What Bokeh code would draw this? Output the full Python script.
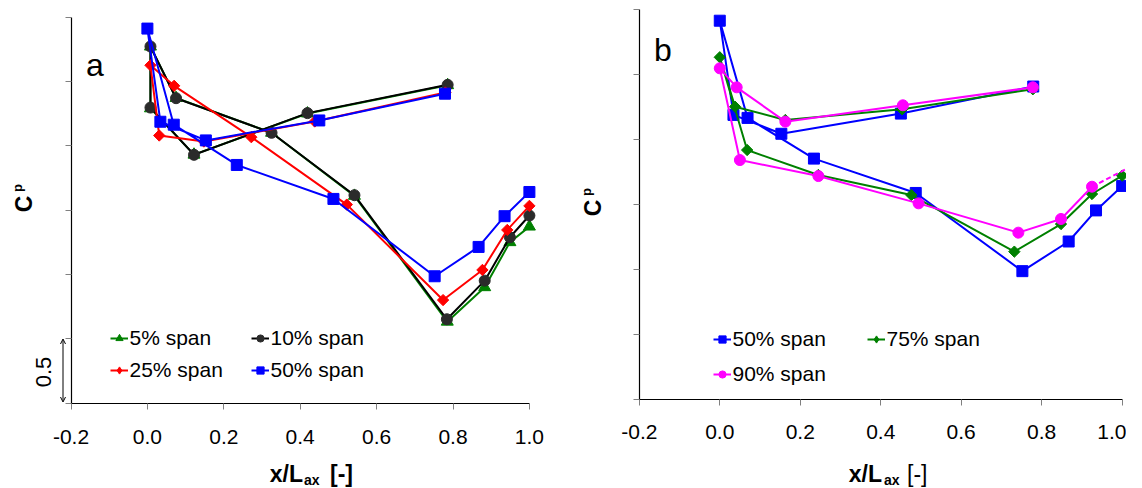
import math
from bokeh.plotting import figure
from bokeh.layouts import row
from bokeh.models import (Label, Legend, LegendItem, Arrow, OpenHead, FixedTicker,
                          PrintfTickFormatter, Range1d)
from bokeh.embed import file_html
from bokeh.resources import INLINE

# ---------------- data ----------------
X_TICKS = [-0.2, 0.0, 0.2, 0.4, 0.6, 0.8, 1.0]
Y_TICKS = [0.0, 0.5, 1.0, 1.5, 2.0, 2.5, 3.0]

# panel a
span5_x = [0.786, 0.419, 0.122, 0.008, 0.008, 0.075, 0.325, 0.542, 0.785, 0.883, 0.949, 1.0]
span5_y = [2.470, 2.250, 1.930, 2.290, 2.770, 2.370, 2.100, 1.610, 0.632, 0.900, 1.250, 1.371]

span10_x = [0.786, 0.419, 0.122, 0.008, 0.008, 0.075, 0.325, 0.542, 0.784, 0.883, 0.949, 1.0]
span10_y = [2.473, 2.253, 1.929, 2.296, 2.771, 2.369, 2.100, 1.615, 0.651, 0.951, 1.288, 1.457]

span25_x = [0.780, 0.438, 0.148, 0.031, 0.008, 0.070, 0.272, 0.522, 0.774, 0.877, 0.942, 1.0]
span25_y = [2.413, 2.188, 2.032, 2.079, 2.625, 2.465, 2.066, 1.542, 0.800, 1.034, 1.345, 1.532]

span50_x = [0.779, 0.450, 0.153, 0.034, 0.0, 0.069, 0.234, 0.487, 0.752, 0.867, 0.935, 1.0]
span50_y = [2.404, 2.196, 2.041, 2.186, 2.910, 2.163, 1.850, 1.586, 0.985, 1.213, 1.452, 1.640]

# panel b
span75_x = [0.778, 0.453, 0.163, 0.038, 0.0, 0.068, 0.245, 0.476, 0.732, 0.848, 0.925, 1.0]
span75_y = [2.383, 2.229, 2.147, 2.249, 2.629, 1.916, 1.724, 1.570, 1.135, 1.347, 1.578, 1.719]

span90_x = [0.778, 0.455, 0.163, 0.042, 0.0, 0.050, 0.245, 0.494, 0.742, 0.848, 0.925]
span90_y = [2.398, 2.260, 2.134, 2.398, 2.544, 1.839, 1.716, 1.506, 1.281, 1.386, 1.634]
span90_ext_x = [0.925, 1.01]
span90_ext_y = [1.634, 1.770]

# ---------------- styling ----------------
FONT = "Liberation Sans"
GREEN = "#008000"
BLACK = "#000000"
DARK = "#2b2b2b"
RED = "#ff0000"
BLUE = "#0000ff"
MAGENTA = "#ff00ff"
PAGE = 0.5
FIG_H = 487


def make_fig(F, standoff):
    """F: picture geometry of the panel (figure box, axis origin, pixels per unit)."""
    x0 = -0.2 - (F["ox"] - F["fx"]) / F["ppx"]
    x1 = -0.2 + (F["fx"] + F["w"] - F["ox"]) / F["ppx"]
    y0 = -(F["fy"] + F["h"] - F["oy"]) / F["ppy"]
    y1 = (F["oy"] - F["fy"]) / F["ppy"]
    p = figure(width=F["w"], height=F["h"], x_range=Range1d(x0, x1), y_range=Range1d(y0, y1),
               output_backend="svg", toolbar_location=None, min_border=0)
    p.outline_line_color = None
    p.xgrid.visible = False
    p.ygrid.visible = False
    p.background_fill_color = "white"
    p.border_fill_color = "white"
    for ax in (p.xaxis[0], p.yaxis[0]):
        ax.axis_line_color = "black"
        ax.axis_line_width = 1.2
        ax.major_tick_in = 0
        ax.major_tick_out = 6
        ax.major_tick_line_color = "#808080"
        ax.minor_tick_in = 0
        ax.minor_tick_out = 6
        ax.minor_tick_line_color = "#808080"
    p.xaxis.fixed_location = 0.0
    p.xaxis.ticker = FixedTicker(ticks=X_TICKS)
    p.xaxis.minor_tick_line_color = None
    p.xaxis.formatter = PrintfTickFormatter(format="%.1f")
    p.xaxis.bounds = (-0.2, 1.0)
    p.xaxis.major_label_text_font = FONT
    p.xaxis.major_label_text_font_size = "21px"
    p.xaxis.major_label_text_color = "black"
    p.xaxis.major_label_standoff = standoff
    p.yaxis.fixed_location = -0.2
    p.yaxis.ticker = FixedTicker(ticks=[], minor_ticks=Y_TICKS)
    p.yaxis.bounds = (0.0, 3.0)
    return p


def series(p, xs, ys, color, marker, size, fill=None, angle=0.0, legend_marker=None):
    ln = p.line(xs, ys, line_color=color, line_width=2)
    sc = p.scatter(xs, ys, marker=marker, size=size, angle=angle,
                   fill_color=fill or color, line_color=fill or color)
    if legend_marker is not None:
        # hidden twin of the marker series, only used for the legend symbol
        twin = p.scatter(xs, ys, marker=legend_marker, size=size,
                         fill_color=fill or color, line_color=fill or color)
        twin.visible = False
        return [ln, twin]
    return [ln, sc]


def conv(F, px, py):
    return (-0.2 + (px - F["ox"]) / F["ppx"], (F["oy"] - py) / F["ppy"])


def add_label(p, F, px, py, text, size, bold=False, align="left", baseline="alphabetic", angle=0.0):
    x, y = conv(F, px, py)
    p.add_layout(Label(x=x, y=y, text=text, text_font=FONT, text_font_size=size,
                       text_font_style="bold" if bold else "normal", text_color="black",
                       text_align=align, text_baseline=baseline, angle=angle))


def legend(p, F, items, glyph_left, row2_center, spacing, label_width):
    loc = (glyph_left - F["fx"], F["fy"] + F["h"] - (row2_center + 12))
    lg = Legend(items=items, location=loc, ncols=2, orientation="vertical",
                background_fill_alpha=0, border_line_color=None, padding=0, margin=0,
                spacing=spacing, glyph_width=18, glyph_height=24, label_height=24,
                label_width=label_width, label_standoff=2, click_policy="none",
                inactive_fill_alpha=0, label_text_color="black",
                label_text_font=FONT, label_text_font_size="21px")
    p.add_layout(lg)


# ---------------- panel a ----------------
FA = dict(fx=PAGE, fy=PAGE, w=570, h=FIG_H, ox=71.0, oy=403.0, ppx=382.0, ppy=386 / 3.0)
pa = make_fig(FA, 21)

r5 = series(pa, span5_x, span5_y, GREEN, "triangle", 12)
r10 = series(pa, span10_x, span10_y, BLACK, "circle", 11, fill=DARK)
r25 = series(pa, span25_x, span25_y, RED, "square", 8, angle=math.pi / 4, legend_marker="diamond")
r50 = series(pa, span50_x, span50_y, BLUE, "square", 11)

legend(pa, FA, [LegendItem(label="5% span", renderers=r5),
                LegendItem(label="25% span", renderers=r25),
                LegendItem(label="10% span", renderers=r10),
                LegendItem(label="50% span", renderers=r50)], 110, 370, 8, 113)

add_label(pa, FA, 86, 65, "a", "32px")
add_label(pa, FA, 24, 204, "C", "23px", bold=True, align="center", baseline="middle", angle=math.pi / 2)
add_label(pa, FA, 17, 188, "p", "13px", bold=True, align="center", baseline="middle", angle=math.pi / 2)
add_label(pa, FA, 43, 372, "0.5", "22px", align="center", baseline="middle", angle=math.pi / 2)
add_label(pa, FA, 303, 474, "x/L", "23px", bold=True, align="right")
add_label(pa, FA, 304, 480, "ax", "14px", bold=True)
add_label(pa, FA, 330, 474, "[-]", "23px", bold=True)
ax0, ay0 = conv(FA, 63, 339)
ax1, ay1 = conv(FA, 63, 402)
pa.add_layout(Arrow(x_start=ax0, y_start=ay0, x_end=ax1, y_end=ay1, line_width=1,
                    line_color="black",
                    start=OpenHead(size=5, line_width=1, line_color="black"),
                    end=OpenHead(size=5, line_width=1, line_color="black")))

# ---------------- panel b ----------------
FB = dict(fx=PAGE + 570, fy=PAGE, w=556, h=FIG_H, ox=639.3, oy=399.3, ppx=402.4, ppy=390.3 / 3.0)
pb = make_fig(FB, 20)

rb50 = series(pb, span50_x, span50_y, BLUE, "square", 11)
rb75 = series(pb, span75_x, span75_y, GREEN, "square", 8, angle=math.pi / 4, legend_marker="diamond")
pb.line(span90_ext_x, span90_ext_y, line_color=MAGENTA, line_width=2, line_dash="5 3")
rb90 = series(pb, span90_x, span90_y, MAGENTA, "circle", 11)

legend(pb, FB, [LegendItem(label="50% span", renderers=rb50),
                LegendItem(label="90% span", renderers=rb90),
                LegendItem(label="75% span", renderers=rb75)], 713, 374, 11, 123)

add_label(pb, FB, 654, 50, "b", "32px")
add_label(pb, FB, 593, 208, "C", "23px", bold=True, align="center", baseline="middle", angle=math.pi / 2)
add_label(pb, FB, 586, 192, "p", "13px", bold=True, align="center", baseline="middle", angle=math.pi / 2)
add_label(pb, FB, 882, 474, "x/L", "23px", bold=True, align="right")
add_label(pb, FB, 884, 480, "ax", "14px", bold=True)
add_label(pb, FB, 907, 474, "[-]", "23px")

layout = row(pa, pb)
open("out.html", "w").write(file_html(layout, INLINE))
